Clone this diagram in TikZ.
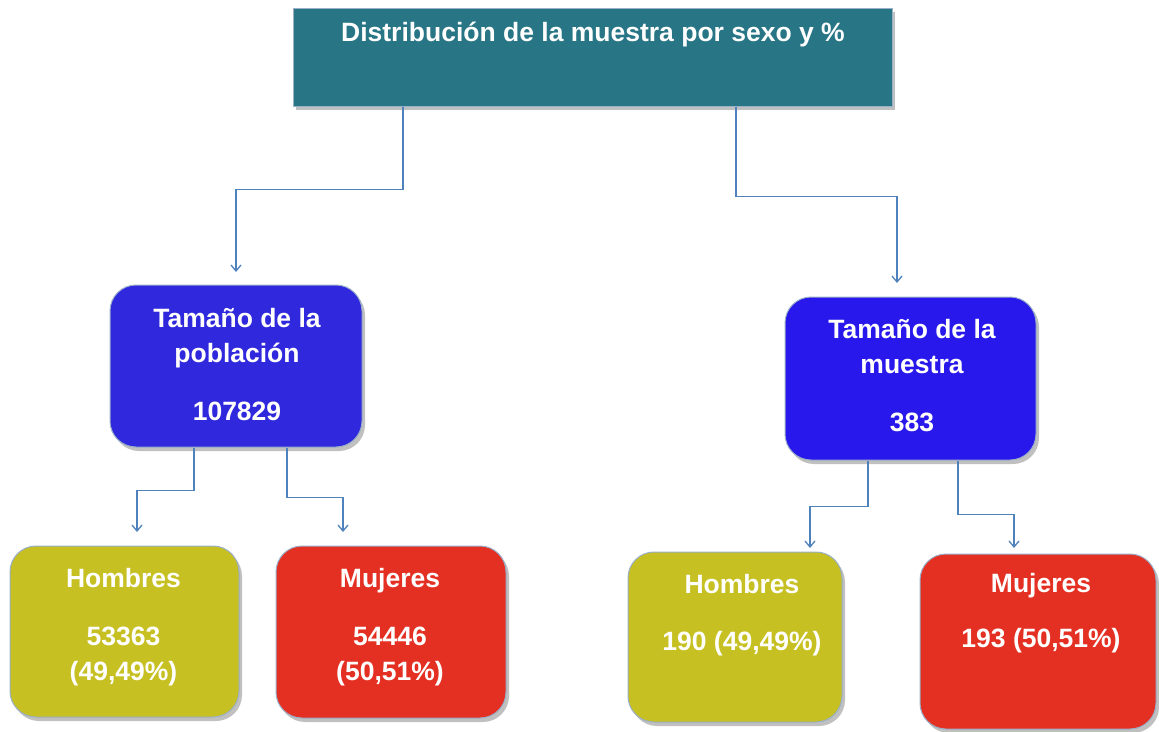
\documentclass[tikz,border=0pt]{standalone}
\usepackage{fontspec}
\setmainfont{Liberation Sans}
\usetikzlibrary{arrows.meta,shadows,calc}
\definecolor{titlec}{HTML}{277585}
\definecolor{bluel}{HTML}{3028DC}
\definecolor{bluer}{HTML}{2818EC}
\definecolor{olive}{HTML}{C6C022}
\definecolor{redc}{HTML}{E43022}
\definecolor{linec}{HTML}{4F81BD}
\definecolor{edgec}{HTML}{9AAFC8}
\tikzset{
  box/.style={draw=edgec, line width=1pt, inner sep=0pt,
    drop shadow={shadow xshift=3pt, shadow yshift=-4pt, fill=black!55, opacity=0.45}},
  rbox/.style={box, rounded corners=26pt},
  txt/.style={text=white, align=center, inner sep=0pt, anchor=north,
    font=\fontsize{26.5}{35}\selectfont\bfseries},
  conn/.style={draw=linec, line width=1.3pt, -{Straight Barb[length=6pt,width=10pt,line width=1.3pt]}}
}
\begin{document}
\begin{tikzpicture}[x=1pt,y=-1pt]
\useasboundingbox (0,0) rectangle (1159,731);
% boxes
\node[box, fill=titlec, minimum width=599pt, minimum height=98pt] (title) at (592.5,57) {};
\node[rbox, fill=bluel, minimum width=252pt, minimum height=162pt] (pob) at (236,366) {};
\node[rbox, fill=bluer, minimum width=251pt, minimum height=163pt] (mue) at (910.5,378.5) {};
\node[rbox, fill=olive, minimum width=229pt, minimum height=171pt] (h1) at (124.5,631.5) {};
\node[rbox, fill=redc, minimum width=230pt, minimum height=172pt] (m1) at (391,632) {};
\node[rbox, fill=olive, minimum width=214pt, minimum height=170pt] (h2) at (735,637) {};
\node[rbox, fill=redc, minimum width=236pt, minimum height=175pt] (m2) at (1038,641.5) {};
% texts
\node[txt] (ttitle) at (593,17) {\strut Distribución de la muestra por sexo y \%};
\node[txt] (tpob) at (237,302.5) {\strut Tamaño de la\\población\\[23pt]107829};
\node[txt] (tmue) at (912,313.5) {\strut Tamaño de la\\muestra\\[23pt]383};
\node[txt] (th1) at (123.5,562.5) {\strut Hombres\\[23pt]53363\\(49,49\%)};
\node[txt] (tm1) at (390,562.5) {\strut Mujeres\\[23pt]54446\\(50,51\%)};
\node[txt] (th2) at (742,568.5) {\strut Hombres\\[22pt]190 (49,49\%)};
\node[txt] (tm2) at (1041,567.5) {\strut Mujeres\\[20pt]193 (50,51\%)};
% free ends of connectors
\coordinate (apob) at (236,272);
\coordinate (amue) at (897,283);
\coordinate (ah1) at (137,532);
\coordinate (am1) at (343,532);
\coordinate (ah2) at (810,548);
\coordinate (am2) at (1014,548);
% connectors
\draw[conn] ([xshift=-189.5pt]title.south) -- ++(0,83) -| (apob);
\draw[conn] ([xshift=143.5pt]title.south) -- ++(0,90) -| (amue);
\draw[conn] ([xshift=-42pt]pob.south) -- ++(0,43) -| (ah1);
\draw[conn] ([xshift=51pt]pob.south) -- ++(0,50) -| (am1);
\draw[conn] ([xshift=-42.5pt]mue.south) -- ++(0,46) -| (ah2);
\draw[conn] ([xshift=47.5pt]mue.south) -- ++(0,54) -| (am2);
\end{tikzpicture}
\end{document}
